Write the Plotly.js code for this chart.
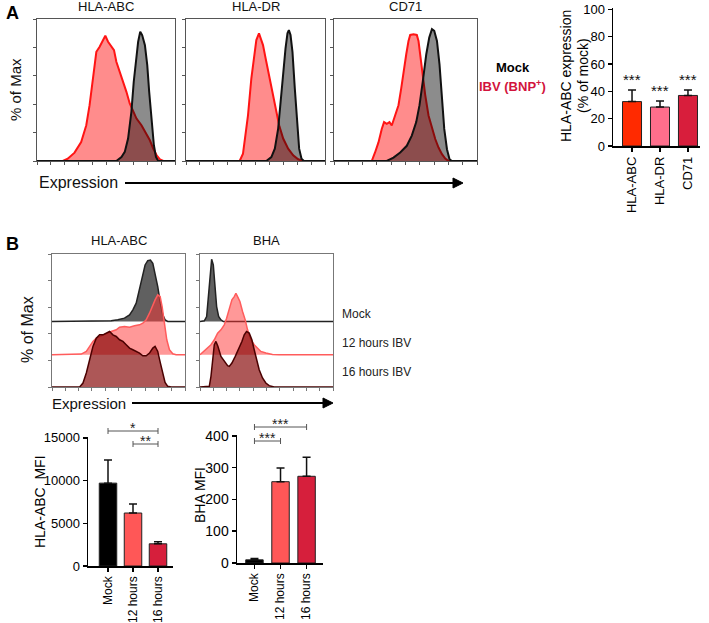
<!DOCTYPE html>
<html><head><meta charset="utf-8">
<script src="https://cdn.plot.ly/plotly-3.0.1.min.js"></script>
<style>html,body{margin:0;padding:0;background:#fff}#chart{width:709px;height:623px}</style>
</head><body><div id="chart"></div>
<script>
// ---------------- DATA ----------------
// Panel A histograms (expression channel 0-100, % of max)
const histA_titles = ['HLA-ABC', 'HLA-DR', 'CD71'];
const A1_ibv_x  = [0,18.7,22.3,27.2,32.0,35.7,38.1,40.5,43.0,45.4,47.8,49.5,51.5,53.4,55.8,57.5,60.0,62.4,64.8,67.2,69.7,72.1,75.7,79.4,81.8,84.2,86.7,89.1,91.5,100];
const A1_ibv_y  = [0,0,1.6,5.9,13.4,25.2,39.3,58.1,76.9,80.5,85.2,88.2,84.0,81.6,78.1,69.9,62.8,56.9,48.7,40.5,34.6,29.9,25.2,19.3,14.6,8.7,4.0,1.2,0,0];
const A1_mock_x = [0,57.5,61.2,63.6,66.0,68.4,70.1,71.6,73.3,74.8,76.2,78.2,79.9,81.3,83.0,84.7,86.2,87.9,100];
const A1_mock_y = [0,0,2.8,6.4,15.8,34.6,55.8,69.9,84.0,91.1,88.7,81.6,67.5,48.7,27.5,11.1,2.8,0,0];
const A2_ibv_x  = [0,38.6,41.0,42.2,44.6,47.0,48.7,50.6,52.5,54.2,55.4,57.3,59.8,62.2,64.6,67.0,69.9,73.5,77.1,80.7,84.3,100];
const A2_ibv_y  = [0,0,5.2,13.4,32.2,58.1,72.2,85.2,89.9,84.0,81.6,72.2,60.5,48.7,36.9,25.2,15.8,8.7,4.0,1.2,0,0];
const A2_mock_x = [0,57.8,61.4,63.9,66.3,68.2,69.9,71.6,73.0,74.0,75.2,76.6,78.3,80.0,81.4,83.1,84.8,100];
const A2_mock_y = [0,0,2.8,8.7,22.8,44.0,62.8,79.3,89.9,92.2,88.7,76.9,50.8,25.2,8.7,1.6,0,0];
const A3_ibv_x  = [0,26.4,28.7,31.1,33.4,35.0,36.9,38.8,40.4,42.8,45.1,47.0,48.6,50.5,52.1,53.3,55.6,57.9,59.1,60.3,61.9,63.8,66.1,68.5,70.8,73.1,75.5,77.8,80.1,100];
const A3_ibv_y  = [0,0,6.0,13.1,22.6,27.4,26.2,27.4,25.0,32.1,39.3,51.2,63.1,75.0,84.5,88.8,89.3,88.8,84.5,75.0,60.7,46.4,32.1,22.6,15.5,9.5,4.8,1.7,0,0];
const A3_mock_x = [0,36.9,41.6,46.3,50.9,54.4,57.5,59.8,62.1,64.5,66.6,68.5,70.1,72.0,73.8,75.5,77.1,79.0,80.8,82.5,100];
const A3_mock_y = [0,0,2.4,6.0,10.7,17.9,27.4,39.3,56.0,75.0,86.9,92.9,91.7,84.5,67.9,44.0,22.6,8.3,1.2,0,0];

// Panel B offset histograms (height above each layer's baseline, % of panel)
const histB_titles = ['HLA-ABC', 'BHA'];
const histB_layers = ['Mock', '12 hours IBV', '16 hours IBV'];
const B1_mock_x = [0,44.5,49.5,54.5,58.3,60.8,63.3,65.0,66.5,68.3,70.0,72.0,74.0,75.8,77.5,79.5,81.5,83.3,85.0,87.0,100];
const B1_mock_h = [0,0.5,1.25,2.5,5,8.75,13.75,21.25,28.75,36.25,42.5,45.75,46.25,43.75,36.25,26.25,13.75,5,1.25,0,0];
const B1_h12_x  = [0,22,25.8,28.3,30.8,33.3,37,40.8,44.5,48.3,50.8,54.5,58.3,62,65.8,68.3,70.8,73.3,75.8,77.5,79.5,81.3,82.8,84.5,86.3,88.3,90.8,93.3,100];
const B1_h12_h  = [0,0.5,2.5,6.25,10,12.5,14.25,16.25,17.5,18.75,20.75,21.25,20.75,21.75,22.5,23.75,26.25,31.25,37.5,41.25,45,43.75,36.25,23.75,11.25,3.75,0.75,0,0];
const B1_h16_x  = [0,20.8,23.3,25.8,28.3,30.8,33.3,35.8,38.3,40.8,43.3,45.8,48.3,50.8,53.3,55.8,58.3,60.8,63.3,65.8,68.3,70.8,73.3,75.8,77.5,79.5,81.5,83.3,85,87,89.5,100];
const B1_h16_h  = [0,0,3,10.5,20.5,30.5,36.75,39.25,39.25,40.5,41.75,39.25,38,35.5,34.25,31.75,29.25,28,26.75,25.5,23.5,23.5,25.5,29.25,30.5,26.75,18,9.25,3.5,0.5,0,0];
const B2_mock_x = [0,3.25,5,6.5,7.5,8.75,10,11.25,12.5,14,15.75,17.5,100];
const B2_mock_h = [0,0.5,3.75,21.25,38.75,46.75,42.5,26.25,11.25,3.75,1.25,0,0];
const B2_h12_x  = [0,0.75,4.5,8.25,10.75,13.25,15.75,18.25,20,22,24,25.75,27,28.25,30,32,34,35.75,38.25,40.75,43.25,45.75,49.5,54.5,59.5,100];
const B2_h12_h  = [0,0.75,3.75,7.5,11.25,16.25,18.75,22.5,27.5,35,41.25,43.75,46.25,43.75,40,32.5,26.25,18.75,11.25,7.5,5,2.5,1.25,0.25,0,0];
const B2_h16_x  = [0,7,8.25,9.5,10.75,12,13.5,15.75,18.25,20.75,22,24,26.5,29,31.5,33.25,35,37,39,40.75,42.5,44.5,47,49.5,52,55.75,100];
const B2_h16_h  = [0,0.5,8,23,31.75,34.25,30.5,23,19.25,16,15.5,18,23,28,34.25,39.25,41.75,40.5,35.5,28,20.5,13,6.75,3,1,0,0];

// Bar chart A: HLA-ABC expression (% of mock)
const barA_cats = ['HLA-ABC', 'HLA-DR', 'CD71'];
const barA_vals = [32.5, 28.5, 37];
const barA_err  = [8.5, 4.5, 4];
const barA_sig  = ['***', '***', '***'];

// Bar charts B
const barB_cats = ['Mock', '12 hours', '16 hours'];
const barB1_vals = [9700, 6200, 2600];
const barB1_err  = [2700, 1050, 250];
const barB2_vals = [10, 256, 273];
const barB2_err  = [4, 43, 60];
const sigB1_pairs = [[0, 2], [1, 2]];
const sigB1_labels = ['*', '**'];
const sigB2_pairs = [[0, 2], [0, 1]];
const sigB2_labels = ['***', '***'];

// ---------------- LAYOUT HELPERS ----------------
const W = 709, H = 623;
const FONT = '"Liberation Sans", Arial, sans-serif';
const dom = (l, r) => [l / W, r / W];
const vdom = (t, b) => [1 - b / H, 1 - t / H];
const annotations = [];
const shapes = [];
function note(text, x, y, o = {}) {
  const a = Object.assign({
    text: text, x: x / W, y: 1 - y / H, xref: 'paper', yref: 'paper',
    showarrow: false, xanchor: 'center', yanchor: 'middle'
  }, o);
  a.font = Object.assign({ family: FONT, size: 13, color: '#111' }, o.font || {});
  annotations.push(a);
}
function arrow(x0, x1, y) {
  const yc = 1 - y / H, dh = 5 / H;
  shapes.push({ type: 'line', xref: 'paper', yref: 'paper', x0: x0 / W, x1: (x1 - 8) / W, y0: yc, y1: yc, line: { color: '#000', width: 2 } });
  shapes.push({ type: 'path', xref: 'paper', yref: 'paper',
    path: `M ${(x1 - 10) / W} ${yc - dh} L ${x1 / W} ${yc} L ${(x1 - 10) / W} ${yc + dh} Z`,
    fillcolor: '#000', line: { color: '#000', width: 1 } });
}
function bracket(xa, pair, yPix, label) {
  const y = 1 - yPix / H, t = 3 / H;
  const st = { color: '#555', width: 1 };
  shapes.push({ type: 'line', xref: xa, yref: 'paper', x0: pair[0], x1: pair[1], y0: y, y1: y, line: st });
  pair.forEach(c => shapes.push({ type: 'line', xref: xa, yref: 'paper', x0: c, x1: c, y0: y - t, y1: y + t, line: st }));
  annotations.push({ text: label, xref: xa, yref: 'paper', x: (pair[0] + pair[1]) / 2, y: y,
    yanchor: 'bottom', yshift: -7, showarrow: false, font: { family: FONT, size: 14, color: '#222' } });
}

// ---------------- TRACES ----------------
const traces = [];
const histA = [[A1_ibv_x, A1_ibv_y, A1_mock_x, A1_mock_y], [A2_ibv_x, A2_ibv_y, A2_mock_x, A2_mock_y], [A3_ibv_x, A3_ibv_y, A3_mock_x, A3_mock_y]];
histA.forEach((h, i) => {
  const xa = 'x' + (i + 1), ya = 'y' + (i + 1);
  traces.push({ type: 'scatter', mode: 'lines', x: h[0], y: h[1], xaxis: xa, yaxis: ya, fill: 'tozeroy',
    fillcolor: 'rgba(255,0,0,0.45)', line: { color: '#ff1414', width: 2 }, hoverinfo: 'skip' });
  traces.push({ type: 'scatter', mode: 'lines', x: h[2], y: h[3], xaxis: xa, yaxis: ya, fill: 'tozeroy',
    fillcolor: 'rgba(0,0,0,0.45)', line: { color: '#111', width: 2 }, hoverinfo: 'skip' });
});

const layerOffset = [49.25, 24.25, 0];
const layerFill = ['rgba(20,20,20,0.68)', 'rgba(255,50,50,0.5)', 'rgba(130,0,0,0.66)'];
const layerLine = ['#222', '#ff5c5c', '#4a0000'];
const histB = [[[B1_mock_x, B1_mock_h], [B1_h12_x, B1_h12_h], [B1_h16_x, B1_h16_h]],
               [[B2_mock_x, B2_mock_h], [B2_h12_x, B2_h12_h], [B2_h16_x, B2_h16_h]]];
histB.forEach((panel, i) => {
  const xa = 'x' + (i + 5), ya = 'y' + (i + 5);
  panel.forEach((layer, k) => {
    traces.push({ type: 'scatter', mode: 'lines', x: layer[0], y: layer[1].map(v => v + layerOffset[k]),
      xaxis: xa, yaxis: ya, fill: 'toself', fillcolor: layerFill[k],
      line: { color: layerLine[k], width: 1.5 }, hoverinfo: 'skip' });
  });
});

function barTrace(cats, vals, err, colors, xa, ya, width) {
  return { type: 'bar', x: cats, y: vals, xaxis: xa, yaxis: ya, width: width,
    marker: { color: colors, line: { color: '#222', width: 1 } },
    error_y: { type: 'data', symmetric: false, array: err, arrayminus: [0, 0, 0], color: '#111', thickness: 1.5, width: 4 },
    hoverinfo: 'skip' };
}
traces.push(barTrace(barA_cats, barA_vals, barA_err, ['#ff2a00', '#ff6e8c', '#d81e3c'], 'x4', 'y4', 0.68));
traces.push(barTrace(barB_cats, barB1_vals, barB1_err, ['#000000', '#ff5757', '#d61f3c'], 'x7', 'y7', 0.7));
traces.push(barTrace(barB_cats, barB2_vals, barB2_err, ['#000000', '#ff5757', '#d61f3c'], 'x8', 'y8', 0.67));

// ---------------- AXES ----------------
function histAxes(color) {
  const base = { showline: true, mirror: true, linecolor: color, linewidth: 1, showgrid: false, zeroline: false,
    showticklabels: false, ticks: 'outside', ticklen: 3, tickcolor: color, range: [0, 100], fixedrange: true };
  return [Object.assign({ dtick: 10 }, base), Object.assign({ dtick: 20 }, base)];
}
function barAxes(yr, dt) {
  const common = { showline: true, linecolor: '#000', linewidth: 1.5, ticks: 'outside', ticklen: 4, tickwidth: 1.5,
    tickcolor: '#000', showgrid: false, zeroline: false, fixedrange: true, exponentformat: 'none',
    tickfont: { family: FONT, size: 12, color: '#000' } };
  return [Object.assign({ type: 'category', tickangle: -90 }, common),
          Object.assign({}, common, { range: yr, dtick: dt, tick0: 0, tickformat: 'd',
            tickfont: { family: FONT, size: 13, color: '#000' } })];
}
const layout = { width: W, height: H, margin: { l: 0, r: 0, t: 0, b: 0 }, showlegend: false, hovermode: false,
  paper_bgcolor: '#fff', plot_bgcolor: 'rgba(0,0,0,0)', font: { family: FONT } };

const histADomX = [dom(37, 175), dom(186, 325), dom(334, 477)];
histADomX.forEach((d, i) => {
  const [xa, ya] = histAxes('#555');
  const n = i === 0 ? '' : String(i + 1);
  layout['xaxis' + n] = Object.assign(xa, { domain: d, anchor: 'y' + (i + 1) });
  layout['yaxis' + n] = Object.assign(ya, { domain: vdom(19, 161), anchor: 'x' + (i + 1) });
  note(histA_titles[i], 0, 0, { xref: 'x' + (i + 1) + ' domain', yref: 'y' + (i + 1) + ' domain', x: 0.5, y: 1,
    yanchor: 'bottom', yshift: 3 });
});
const histBDomX = [dom(52, 185), dom(200, 333)];
histBDomX.forEach((d, i) => {
  const [xa, ya] = histAxes('#777');
  layout['xaxis' + (i + 5)] = Object.assign(xa, { domain: d, anchor: 'y' + (i + 5) });
  layout['yaxis' + (i + 5)] = Object.assign(ya, { domain: vdom(254, 387), anchor: 'x' + (i + 5) });
  note(histB_titles[i], 0, 0, { xref: 'x' + (i + 5) + ' domain', yref: 'y' + (i + 5) + ' domain', x: 0.5, y: 1,
    yanchor: 'bottom', yshift: 4 });
});

let ax = barAxes([0, 101], 20);
layout.xaxis4 = Object.assign(ax[0], { domain: dom(613, 700), anchor: 'y4', range: [-0.68, 2.43],
  tickfont: { family: FONT, size: 13, color: '#000' } });
layout.yaxis4 = Object.assign(ax[1], { domain: vdom(8, 146), anchor: 'x4' });
ax = barAxes([0, 15100], 5000);
layout.xaxis7 = Object.assign(ax[0], { domain: dom(88, 173), anchor: 'y7', range: [-0.8, 2.6] });
layout.yaxis7 = Object.assign(ax[1], { domain: vdom(437, 566), anchor: 'x7' });
ax = barAxes([0, 403], 100);
layout.xaxis8 = Object.assign(ax[0], { domain: dom(237, 323), anchor: 'y8', range: [-0.67, 2.63] });
layout.yaxis8 = Object.assign(ax[1], { domain: vdom(435, 563), anchor: 'x8', tickfont: { family: FONT, size: 14, color: '#000' } });

// ---------------- TEXT & DECORATION ----------------
note('<b>A</b>', 12, 13, { font: { size: 18, color: '#000' } });
note('<b>B</b>', 12, 244, { font: { size: 18, color: '#000' } });
note('% of Max', 15, 90, { textangle: -90, font: { size: 15 } });
note('% of Max', 28, 330, { textangle: -90, font: { size: 16 } });
note('Expression', 37, 183, { xanchor: 'left', font: { size: 16 } });
note('Expression', 50, 403, { xanchor: 'left', font: { size: 15 } });
arrow(125, 463, 183);
arrow(132, 333, 403);
note('<b>Mock</b>', 513, 68, { font: { size: 13, color: '#000' } });
note('<b>IBV (BNP<sup>+</sup>)</b>', 512, 86, { font: { size: 13, color: '#d2143c' } });
histB_layers.forEach((t, k) => note(t, 340, [314, 343, 372][k], { xanchor: 'left', font: { size: 12, color: '#222' } }));
note('HLA-ABC expression', 566, 76, { textangle: -90, font: { size: 14, color: '#000' } });
note('(% of mock)', 583, 76, { textangle: -90, font: { size: 14, color: '#000' } });
note('HLA-ABC  MFI', 40, 502, { textangle: -90, font: { size: 14, color: '#000' } });
note('BHA MFI', 200, 495, { textangle: -90, font: { size: 14, color: '#000' } });

barA_cats.forEach((c, i) => annotations.push({ text: barA_sig[i], xref: 'x4', yref: 'y4', x: i,
  y: barA_vals[i] + barA_err[i], yanchor: 'bottom', yshift: 0, showarrow: false,
  font: { family: FONT, size: 15, color: '#111' } }));
sigB1_pairs.forEach((p, i) => bracket('x7', p, [431, 444][i], sigB1_labels[i]));
sigB2_pairs.forEach((p, i) => bracket('x8', p, [427, 441][i], sigB2_labels[i]));

layout.annotations = annotations;
layout.shapes = shapes;
Plotly.newPlot('chart', traces, layout, { staticPlot: true, displayModeBar: false });
</script>
</body></html>
